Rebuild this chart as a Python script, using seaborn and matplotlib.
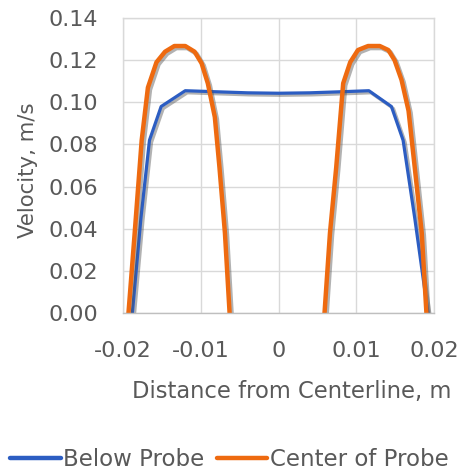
import numpy as np
import pandas as pd
import matplotlib
matplotlib.use("Agg")
import matplotlib.pyplot as plt
import matplotlib.patheffects as pe
import seaborn as sns


# DATA

below_x = [-0.0188, -0.0177, -0.0166, -0.0151, -0.0120, -0.0080, -0.0040, 0.0,
           0.0040, 0.0080, 0.0116, 0.0145, 0.0160, 0.0175, 0.0192]
below_v = [0.0, 0.045, 0.082, 0.098, 0.1055, 0.1050, 0.1045, 0.1043,
           0.1045, 0.1050, 0.1055, 0.098, 0.082, 0.045, 0.0]

center_left_x = [-0.0193, -0.0185, -0.0176, -0.0168, -0.0157, -0.0146, -0.0134,
                 -0.0120, -0.0108, -0.0099, -0.0091, -0.0082, -0.0076, -0.0069, -0.0063]
center_left_v = [0.0, 0.038, 0.082, 0.107, 0.119, 0.124, 0.1267,
                 0.1267, 0.124, 0.1185, 0.109, 0.093, 0.069, 0.038, 0.0]

center_right_x = [0.0059, 0.0066, 0.0074, 0.0083, 0.0092, 0.0102, 0.0115,
                  0.0130, 0.0141, 0.0149, 0.0158, 0.0167, 0.0175, 0.0184, 0.0190]
center_right_v = [0.0, 0.038, 0.069, 0.109, 0.119, 0.1248, 0.1267,
                  0.1267, 0.1248, 0.120, 0.1106, 0.096, 0.069, 0.038, 0.0]

series_names = ["Below Probe", "Center of Probe"]
x_ticks = [-0.02, -0.01, 0, 0.01, 0.02]
x_tick_labels = ["-0.02", "-0.01", "0", "0.01", "0.02"]
y_ticks = [0.00, 0.02, 0.04, 0.06, 0.08, 0.10, 0.12, 0.14]

COLORS = {"Below Probe": "#2C5DC2", "Center of Probe": "#EE6A10"}
TEXT = "#595959"
GRID = "#D9D9D9"

# table for seaborn: one row per point, "segment" keeps the two orange humps apart
df = pd.concat([
    pd.DataFrame({"x": below_x, "v": below_v, "series": series_names[0], "segment": 0}),
    pd.DataFrame({"x": center_left_x, "v": center_left_v, "series": series_names[1], "segment": 1}),
    pd.DataFrame({"x": center_right_x, "v": center_right_v, "series": series_names[1], "segment": 2}),
], ignore_index=True)


# PLOT

sns.set_style("white")
plt.rcParams["font.family"] = ["DejaVu Sans"]

fig = plt.figure(figsize=(4.59, 4.73), dpi=100)
ax = fig.add_axes([0.268, 0.338, 0.678, 0.624])

sns.lineplot(data=df, x="x", y="v", hue="series", units="segment", estimator=None,
             sort=False, palette=COLORS, hue_order=series_names, ax=ax, legend=False)

# Excel-like soft drop shadow under the lines
shadow = [pe.SimpleLineShadow(offset=(1.5, -1.5), shadow_color="#555555", alpha=0.45),
          pe.Normal()]
for line in ax.get_lines():
    c = matplotlib.colors.to_hex(line.get_color()).upper()
    line.set_linewidth(3.2 if c == COLORS["Center of Probe"] else 2.3)
    line.set_path_effects(shadow)
    line.set_solid_joinstyle("round")

ax.set_xlim(-0.02, 0.02)
ax.set_ylim(0, 0.14)
ax.set_xticks(x_ticks)
ax.set_xticklabels(x_tick_labels)
ax.set_yticks(y_ticks)
ax.set_yticklabels([f"{t:.2f}" for t in y_ticks])
ax.grid(True, color=GRID, linewidth=1)
ax.set_axisbelow(True)
for s in ax.spines.values():
    s.set_color(GRID)
    s.set_linewidth(1)
ax.spines["bottom"].set_color("#BFBFBF")
ax.tick_params(length=0, labelsize=16, colors=TEXT)
ax.tick_params(axis="y", pad=18)
ax.tick_params(axis="x", pad=20)

ax.set_xlabel("Distance from Centerline, m", fontsize=16.3, color=TEXT)
ax.set_ylabel("Velocity, m/s", fontsize=15.3, color=TEXT)
ax.xaxis.set_label_coords(0.543, -0.227)
ax.yaxis.set_label_coords(-0.273, 0.485)

handles = [plt.Line2D([], [], color=COLORS[n], linewidth=3.2) for n in series_names]
fig.legend(handles, series_names, loc="center", bbox_to_anchor=(0.5, 0.028), ncol=2,
           frameon=False, fontsize=16.5, handlelength=2.2, handletextpad=0.1,
           columnspacing=0.55, labelcolor=TEXT)

fig.savefig("out.png", dpi=100)
